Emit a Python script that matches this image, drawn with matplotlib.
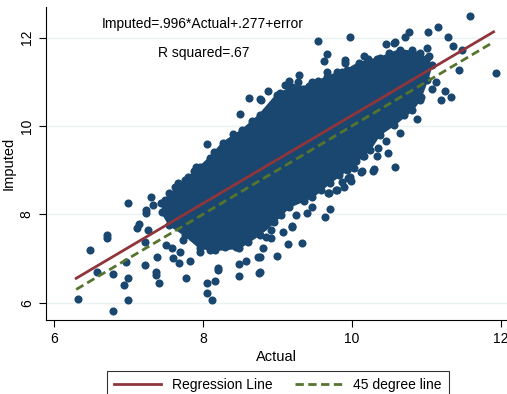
import matplotlib
matplotlib.use("Agg")
import matplotlib.pyplot as plt
import numpy as np

plt.rcParams['font.family'] = ['Liberation Sans', 'DejaVu Sans']

# regression fit
slope = 0.996
intercept = 0.277
line_x = [6.3, 11.9]

# outline of the dense core of the cloud (actual, imputed)
core_actual = [7.49, 7.76, 7.96, 8.09, 8.27, 8.53, 8.76, 8.99, 9.20, 9.43, 9.66, 9.93,
               10.10, 10.37, 10.64, 10.91, 11.07, 11.01, 10.91, 10.81, 10.57, 10.37,
               10.24, 9.93, 9.70, 9.47, 9.16, 8.96, 8.76, 8.49, 8.16, 7.96, 7.76, 7.55, 7.45]
core_imputed = [8.33, 8.78, 9.07, 9.28, 9.62, 9.91, 10.25, 10.70, 10.88, 10.90, 11.11, 11.27,
                11.43, 11.54, 11.72, 11.65, 11.38, 11.04, 10.59, 10.36, 10.03, 9.80,
                9.46, 9.00, 8.71, 8.39, 8.17, 7.83, 7.54, 7.24, 7.19, 7.24, 7.53, 7.76, 8.05]

# scattered points outside the core
out_actual = [7.00, 6.71, 6.72, 6.48, 6.58, 6.79, 6.97, 7.00, 6.94, 6.33, 6.99, 6.79,
              7.11, 7.14, 7.22, 7.23, 7.24, 7.30, 7.33, 7.26, 7.22, 7.38, 7.37, 7.37,
              7.41, 7.44, 7.77, 7.60, 7.68, 7.83, 8.05, 8.06, 8.12, 8.16, 8.20, 8.20,
              8.48, 8.48, 8.58, 8.74, 8.75,
              7.51, 7.58, 7.69, 7.73, 7.85, 7.96, 8.09, 8.25, 8.45, 8.60,
              7.55, 7.67, 7.80, 7.91, 8.05, 8.27, 8.50, 8.62, 8.76, 7.58,
              8.81, 8.92, 8.85, 8.92, 9.07, 9.20, 9.14, 9.33, 8.81, 8.99, 8.76, 8.76,
              9.25, 9.40, 9.47, 9.64, 9.71, 9.68, 9.79, 9.89, 9.95, 9.99, 10.03, 10.13,
              10.29, 10.16, 10.33, 10.35, 10.48, 10.58, 10.64, 10.15, 10.28, 10.12,
              9.95, 9.97, 9.86, 9.80, 9.69, 9.19,
              11.58, 11.16, 11.02, 10.76, 10.71, 10.57, 10.58, 10.46, 11.29, 11.36,
              11.48, 11.01, 11.44, 11.93, 11.25, 11.33, 11.20, 11.07, 11.13, 10.87,
              10.82, 10.93, 11.00, 11.04, 9.98, 9.54, 9.66, 9.63, 9.90, 9.91, 10.16,
              10.33, 10.50, 9.29, 9.27, 9.15, 9.47, 9.67, 9.87, 9.03, 8.78,
              7.62, 7.88, 8.15, 8.40, 8.66, 8.88, 9.10, 9.55, 9.80, 10.22, 10.80,
              9.05, 9.35, 9.58, 9.82, 10.05, 10.45, 10.70, 8.60, 8.30]
out_imputed = [8.26, 7.53, 7.46, 7.19, 6.70, 6.64, 6.92, 6.55, 6.40, 6.08, 6.06, 5.81,
               7.69, 7.77, 6.85, 8.10, 8.03, 8.40, 8.21, 7.65, 7.38, 7.04, 6.70, 6.63,
               6.44, 8.25, 6.57, 7.01, 6.89, 6.94, 6.44, 6.21, 6.05, 6.50, 6.78, 6.74,
               6.87, 6.60, 6.95, 7.04, 6.68,
               7.31, 7.23, 7.15, 7.42, 7.49, 7.15, 7.19, 7.38, 7.27, 7.49,
               8.48, 8.70, 8.85, 9.08, 9.59, 9.55, 10.28, 10.64, 10.60, 8.44,
               7.72, 7.65, 7.49, 7.46, 7.61, 7.72, 7.33, 7.36, 7.23, 7.06, 6.70, 7.04,
               7.99, 8.04, 8.16, 7.95, 8.11, 8.49, 8.55, 8.61, 8.82, 8.76, 9.04, 8.97,
               9.02, 9.32, 9.32, 9.50, 9.38, 9.08, 9.84, 9.31, 8.97, 8.95,
               9.04, 8.85, 8.74, 8.55, 8.48, 7.74,
               12.49, 12.23, 12.12, 12.12, 12.02, 11.87, 11.91, 11.85, 12.02, 11.82,
               11.72, 11.76, 11.27, 11.19, 10.78, 10.66, 10.59, 10.83, 11.00, 10.15,
               10.55, 10.66, 11.53, 11.59, 12.02, 11.92, 11.62, 11.46, 11.49, 11.42, 11.59,
               11.51, 11.66, 11.16, 11.00, 11.01, 11.00, 11.23, 11.21, 10.75, 10.59,
               8.62, 8.98, 9.42, 9.82, 10.12, 10.78, 10.93, 11.02, 11.22, 11.52, 11.72,
               7.99, 8.30, 8.55, 8.90, 9.20, 9.65, 10.25, 7.38, 7.25]

navy = '#1a476f'
red = '#90353b'
green = '#55752f'

fig = plt.figure(figsize=(5.07, 3.94), dpi=100)
ax = fig.add_axes([0.090, 0.188, 0.910, 0.794])

ax.fill(core_actual, core_imputed, facecolor=navy, edgecolor=navy, linewidth=1.5,
        joinstyle='round', zorder=2)
ax.scatter(core_actual, core_imputed, s=34, color=navy, linewidths=0, zorder=2)
ax.scatter(out_actual, out_imputed, s=34, color=navy, linewidths=0, zorder=2)

lx = np.array(line_x)
ax.plot(lx, slope * lx + intercept, color=red, linewidth=2, label='Regression Line', zorder=3)
ax.plot(lx, lx, color=green, linewidth=2, linestyle=(0, (3, 1.6)), label='45 degree line', zorder=3)

ax.set_xlim(5.89, 12.08)
ax.set_ylim(5.61, 12.69)
ax.set_xticks([6, 8, 10, 12])
ax.set_yticks([6, 8, 10, 12])
ax.tick_params(axis='both', labelsize=10, length=5, width=0.8, color='black')
for lab in ax.get_yticklabels():
    lab.set_rotation(90)
    lab.set_va('center')
ax.grid(axis='y', color='#eaf2f3', linewidth=1)
ax.set_axisbelow(True)
for s in ['top', 'right']:
    ax.spines[s].set_visible(False)
for s in ['left', 'bottom']:
    ax.spines[s].set_linewidth(0.8)

ax.set_xlabel('Actual', fontsize=10.5, labelpad=3)
ax.set_ylabel('Imputed', fontsize=10.5, labelpad=3)

ax.text(8.0, 12.31, 'Imputed=.996*Actual+.277+error', fontsize=10, ha='center', va='center')
ax.text(8.01, 11.65, 'R squared=.67', fontsize=10, ha='center', va='center')

leg = fig.legend(loc='lower center', bbox_to_anchor=(0.548, -0.03), ncol=2, fontsize=10,
                 frameon=True, fancybox=False, edgecolor='black', handlelength=3.4,
                 columnspacing=1.6, borderpad=0.5)
leg.get_frame().set_linewidth(0.8)

fig.savefig('out.png', dpi=100)
